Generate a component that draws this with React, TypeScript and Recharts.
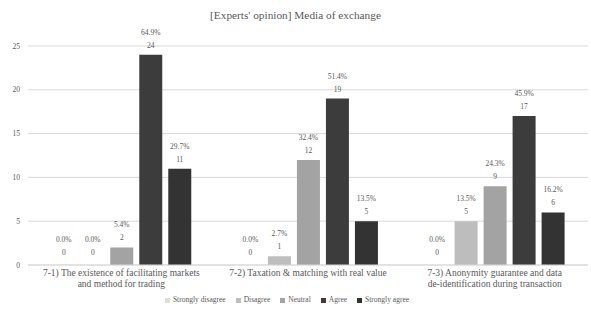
import React from "react";
import { BarChart, Bar, XAxis, YAxis, CartesianGrid, Legend, LabelList } from "recharts";

const categories = [
  "7-1) The existence of facilitating markets|and method for trading",
  "7-2) Taxation & matching with real value",
  "7-3) Anonymity guarantee and data|de-identification during transaction",
];
const stronglyDisagree = [0, 0, 0];
const disagree = [0, 1, 5];
const neutral = [2, 12, 9];
const agree = [24, 19, 17];
const stronglyAgree = [11, 5, 6];
const yTicks = [0, 5, 10, 15, 20, 25];

const series = [
  { key: "sd", name: "Strongly disagree", color: "#dedede" },
  { key: "d", name: "Disagree", color: "#bdbdbd" },
  { key: "n", name: "Neutral", color: "#a3a3a3" },
  { key: "a", name: "Agree", color: "#3c3c3c" },
  { key: "sa", name: "Strongly agree", color: "#333333" },
];

const data = categories.map((c, i) => {
  const total = stronglyDisagree[i] + disagree[i] + neutral[i] + agree[i] + stronglyAgree[i];
  return {
    name: c,
    total,
    sd: stronglyDisagree[i],
    d: disagree[i],
    n: neutral[i],
    a: agree[i],
    sa: stronglyAgree[i],
  };
});

const FONT = "'Liberation Serif', 'DejaVu Serif', serif";
const TEXT = "#595959";

function CatTick(props: any) {
  const { x, y, payload } = props;
  const lines = String(payload.value).split("|");
  return (
    <text x={x} y={y + 3} textAnchor="middle" fontSize={9.5} fill={TEXT} fontFamily={FONT}>
      {lines.map((l, i) => (
        <tspan key={i} x={x} dy={i === 0 ? 0 : 11}>
          {l}
        </tspan>
      ))}
    </text>
  );
}

function makeLabel(key: string) {
  return (props: any) => {
    const { x, y, width, index, value } = props;
    const total = data[index].total;
    const pct = ((value / total) * 100).toFixed(1) + "%";
    const cx = x + width / 2;
    // zero bars: Excel puts the label a little higher
    const lift = value === 0 ? 3 : 0;
    return (
      <text x={cx} textAnchor="middle" fontSize={7.5} fill={TEXT} fontFamily={FONT} key={key + index}>
        <tspan x={cx} y={y - 20 - lift}>{pct}</tspan>
        <tspan x={cx} y={y - 7 - lift}>{value}</tspan>
      </text>
    );
  };
}

function LegendContent() {
  return (
    <div style={{ display: "flex", justifyContent: "center", gap: 10, fontFamily: FONT, fontSize: 7.5, color: TEXT, lineHeight: "10px", marginLeft: -14 }}>
      {series.map((s) => (
        <span key={s.key} style={{ display: "flex", alignItems: "center", gap: 3 }}>
          <span style={{ width: 5, height: 5, background: s.color, display: "inline-block" }} />
          {s.name}
        </span>
      ))}
    </div>
  );
}

export default function App() {
  return (
    <div style={{ position: "absolute", left: 0, top: 0, width: 591, height: 317, background: "#fff" }}>
      <div
        style={{
          position: "absolute",
          top: 9,
          left: 0,
          width: 591,
          textAlign: "center",
          fontFamily: FONT,
          fontSize: 11.3,
          color: TEXT,
        }}
      >
        [Experts' opinion] Media of exchange
      </div>
      <BarChart
        width={591}
        height={317}
        data={data}
        margin={{ top: 46, right: 3, left: 0, bottom: 8 }}
        barCategoryGap="13%"
        barGap={6}
      >
        <CartesianGrid vertical={false} stroke="#d9d9d9" />
        <XAxis dataKey="name" height={30} tick={<CatTick />} tickLine={false} axisLine={{ stroke: "#d9d9d9" }} interval={0} />
        <YAxis
          width={28}
          domain={[0, 25]}
          ticks={yTicks}
          tickLine={false}
          axisLine={false}
          tick={{ fontSize: 7.5, fill: TEXT, fontFamily: FONT }}
        />
        <Legend verticalAlign="bottom" height={14} content={<LegendContent />} />
        {series.map((s) => (
          <Bar key={s.key} dataKey={s.key} name={s.name} fill={s.color} minPointSize={0.01} isAnimationActive={false}>
            <LabelList dataKey={s.key} content={makeLabel(s.key)} />
          </Bar>
        ))}
      </BarChart>
    </div>
  );
}
